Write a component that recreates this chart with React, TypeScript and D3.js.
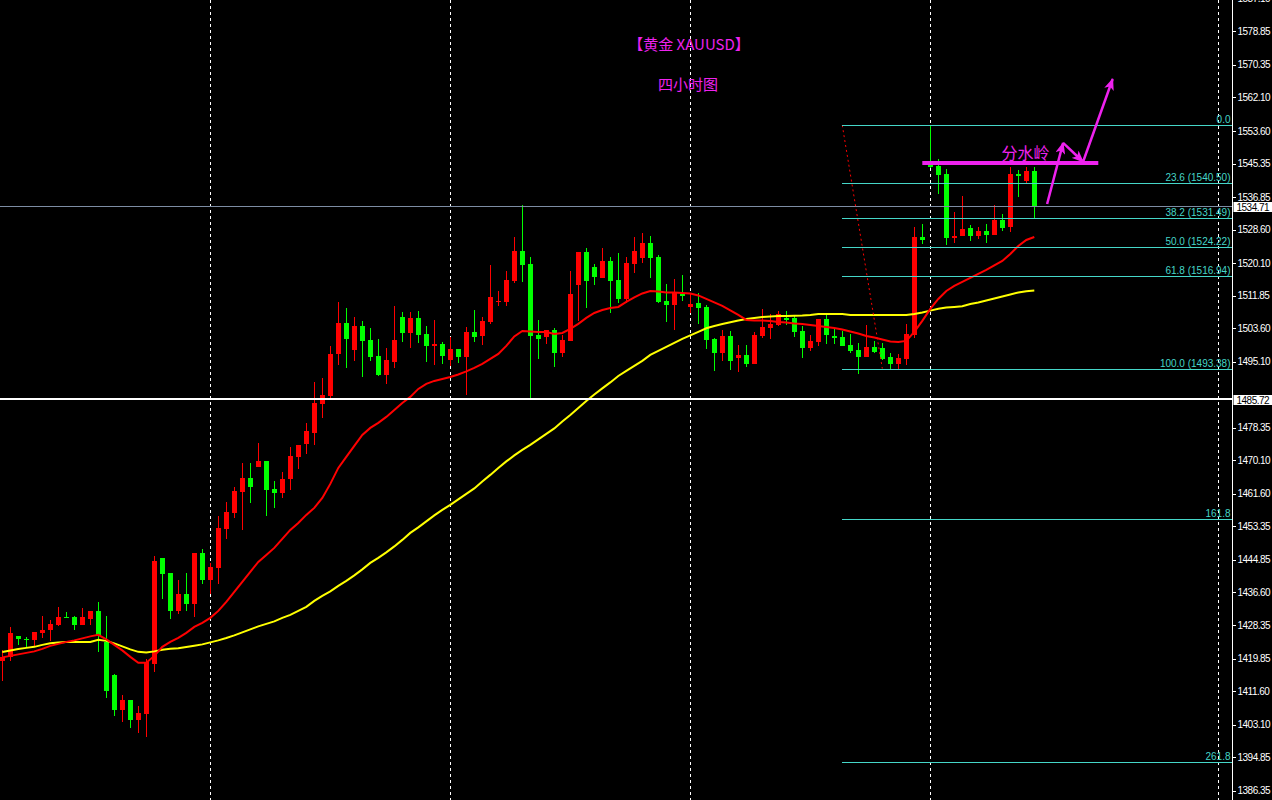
import React from 'react';
import * as d3 from 'd3';

const WIDTH = 1272;
const HEIGHT = 800;

const opens = [
  1419.3, 1420.3, 1425.6, 1424.9, 1424.6, 1426.3, 1427.0, 1428.4, 1430.4, 1430.4,
  1428.4, 1429.9, 1431.9, 1424.1, 1415.7, 1406.8, 1409.4, 1404.3, 1405.8, 1418.5,
  1445.4, 1441.6, 1431.9, 1436.2, 1433.8, 1446.6, 1439.8, 1442.8, 1452.7, 1456.8,
  1462.1, 1465.7, 1468.4, 1469.9, 1462.9, 1461.9, 1465.4, 1470.9, 1474.3, 1477.1,
  1484.4, 1486.4, 1497.1, 1504.9, 1498.1, 1504.2, 1500.6, 1496.6, 1491.8, 1495.1,
  1506.5, 1502.4, 1506.2, 1502.2, 1499.1, 1499.6, 1495.6, 1498.4, 1496.3, 1502.7,
  1501.6, 1505.2, 1510.5, 1510.3, 1515.6, 1523.2, 1519.9, 1501.9, 1501.4, 1503.2,
  1497.3, 1500.4, 1514.6, 1522.9, 1519.1, 1516.4, 1520.7, 1515.8, 1511.0, 1519.9,
  1521.4, 1525.2, 1521.7, 1510.5, 1509.5, 1512.3, 1509.0, 1510.0, 1509.0, 1500.9,
  1497.3, 1501.6, 1496.1, 1496.8, 1494.5, 1501.6, 1503.7, 1504.4, 1506.2, 1506.2,
  1502.9, 1498.6, 1500.1, 1505.9, 1501.6, 1501.4, 1499.4, 1498.1, 1496.3, 1498.8,
  1498.6, 1496.3, 1494.5, 1495.8, 1501.9, 1526.7, 1545.0, 1544.7, 1542.7, 1526.5,
  1527.0, 1529.0, 1527.0, 1528.3, 1527.3, 1531.1, 1529.3, 1542.7, 1540.9, 1543.5,
];

const highs = [
  1422.0, 1427.9, 1425.6, 1425.2, 1426.6, 1430.7, 1429.7, 1432.9, 1431.7, 1430.7,
  1432.7, 1431.9, 1434.2, 1430.7, 1416.0, 1410.6, 1409.4, 1407.9, 1419.8, 1445.9,
  1445.4, 1441.6, 1439.8, 1441.6, 1446.6, 1447.6, 1444.1, 1456.0, 1459.6, 1463.4,
  1469.4, 1469.4, 1474.5, 1469.9, 1464.9, 1467.2, 1473.5, 1474.0, 1479.6, 1490.0,
  1491.0, 1499.1, 1510.3, 1508.7, 1506.5, 1505.5, 1503.7, 1500.9, 1498.6, 1509.2,
  1507.7, 1507.7, 1508.0, 1504.2, 1505.7, 1500.1, 1501.4, 1498.4, 1503.9, 1508.2,
  1506.5, 1519.6, 1513.1, 1518.1, 1526.7, 1534.8, 1521.7, 1505.7, 1503.2, 1503.7,
  1501.9, 1518.1, 1522.9, 1523.9, 1519.9, 1523.9, 1521.7, 1522.7, 1521.7, 1526.7,
  1527.8, 1527.0, 1522.2, 1514.8, 1516.1, 1517.1, 1512.5, 1512.5, 1509.5, 1501.1,
  1503.2, 1502.9, 1499.4, 1499.4, 1502.7, 1508.5, 1507.2, 1508.0, 1508.0, 1506.7,
  1504.2, 1501.9, 1505.9, 1507.0, 1503.4, 1502.9, 1502.2, 1499.9, 1504.4, 1500.4,
  1499.9, 1497.3, 1497.1, 1504.7, 1529.3, 1530.0, 1555.1, 1546.5, 1544.0, 1533.1,
  1537.1, 1529.8, 1529.3, 1530.0, 1534.9, 1532.6, 1544.5, 1543.7, 1544.5, 1544.5,
];

const lows = [
  1414.2, 1419.3, 1423.4, 1422.6, 1423.1, 1425.1, 1424.3, 1428.1, 1430.2, 1427.1,
  1428.4, 1428.4, 1421.5, 1409.9, 1405.3, 1403.8, 1402.3, 1401.0, 1400.0, 1416.5,
  1435.0, 1429.9, 1431.2, 1431.8, 1430.5, 1438.8, 1436.2, 1438.8, 1450.2, 1455.5,
  1452.5, 1459.3, 1468.4, 1456.0, 1458.0, 1460.6, 1462.6, 1467.9, 1471.7, 1474.0,
  1480.9, 1485.9, 1494.3, 1493.5, 1495.3, 1491.3, 1495.3, 1491.5, 1489.5, 1493.5,
  1500.1, 1498.6, 1499.9, 1495.1, 1494.3, 1494.6, 1494.0, 1494.8, 1486.7, 1500.1,
  1499.4, 1504.7, 1509.3, 1509.3, 1515.1, 1515.3, 1485.9, 1495.8, 1499.6, 1493.8,
  1496.3, 1500.4, 1505.5, 1508.7, 1514.6, 1516.4, 1507.5, 1510.0, 1510.0, 1517.6,
  1520.2, 1516.4, 1510.0, 1505.2, 1503.2, 1510.5, 1507.5, 1504.7, 1498.3, 1492.8,
  1495.3, 1493.0, 1492.5, 1493.8, 1494.5, 1501.1, 1500.9, 1504.2, 1504.4, 1501.4,
  1496.1, 1497.8, 1499.1, 1499.6, 1499.6, 1499.1, 1497.3, 1492.0, 1496.3, 1497.3,
  1495.6, 1493.3, 1493.3, 1494.3, 1501.1, 1525.0, 1544.2, 1537.6, 1524.7, 1525.2,
  1527.0, 1525.7, 1526.2, 1525.2, 1527.3, 1528.3, 1528.0, 1536.9, 1540.4, 1531.6,
];

const closes = [
  1420.3, 1426.4, 1424.9, 1424.7, 1426.6, 1427.1, 1428.6, 1430.4, 1430.2, 1428.4,
  1430.4, 1431.9, 1425.8, 1411.6, 1406.8, 1409.4, 1404.3, 1406.1, 1419.0, 1444.6,
  1441.3, 1431.9, 1436.2, 1433.8, 1446.6, 1439.8, 1443.1, 1453.0, 1457.0, 1462.4,
  1465.7, 1463.4, 1469.9, 1462.7, 1461.9, 1465.4, 1471.2, 1474.0, 1477.6, 1484.7,
  1486.7, 1497.1, 1504.9, 1500.9, 1504.2, 1500.4, 1496.3, 1491.8, 1495.6, 1500.6,
  1502.4, 1506.2, 1501.9, 1499.1, 1499.6, 1496.6, 1498.4, 1496.3, 1502.7, 1501.4,
  1505.5, 1511.5, 1510.6, 1515.8, 1523.2, 1519.6, 1501.6, 1500.9, 1503.2, 1497.3,
  1500.6, 1512.3, 1522.9, 1515.6, 1516.6, 1520.7, 1515.6, 1511.0, 1520.2, 1523.2,
  1525.2, 1521.4, 1510.3, 1509.5, 1512.8, 1511.8, 1509.8, 1508.7, 1500.6, 1497.3,
  1501.6, 1495.3, 1496.8, 1494.5, 1501.9, 1503.9, 1504.7, 1507.2, 1505.7, 1502.7,
  1498.6, 1500.4, 1505.9, 1501.9, 1501.1, 1499.1, 1497.8, 1496.3, 1498.8, 1497.6,
  1495.8, 1494.5, 1496.1, 1502.2, 1526.7, 1526.0, 1544.5, 1542.5, 1526.5, 1527.0,
  1528.8, 1527.0, 1528.3, 1527.3, 1531.1, 1529.0, 1542.7, 1542.2, 1543.5, 1534.71,
];

// red moving average (fast)
const maFast = [
  1420.14, 1420.52, 1420.90, 1421.28, 1421.66, 1422.30, 1423.06, 1423.57, 1424.07, 1424.45,
  1424.96, 1425.47, 1425.85, 1424.71, 1423.31, 1421.92, 1420.27, 1418.75, 1418.75, 1420.52,
  1422.81, 1424.07, 1425.09, 1426.35, 1427.88, 1428.89, 1430.16, 1431.93, 1434.21, 1436.75,
  1439.28, 1441.82, 1444.35, 1446.13, 1447.90, 1450.18, 1452.46, 1454.24, 1456.27, 1458.04,
  1460.58, 1464.13, 1468.18, 1470.97, 1473.76, 1476.55, 1478.32, 1479.59, 1481.11, 1482.88,
  1484.66, 1486.18, 1488.21, 1489.48, 1490.24, 1490.74, 1491.25, 1491.88, 1492.64, 1493.53,
  1494.55, 1495.81, 1497.08, 1499.11, 1501.52, 1502.91, 1502.78, 1502.66, 1502.66, 1502.15,
  1502.40, 1503.42, 1504.69, 1506.21, 1507.47, 1508.23, 1508.74, 1509.00, 1510.26, 1511.40,
  1512.42, 1513.05, 1512.92, 1512.67, 1512.67, 1512.54, 1512.42, 1511.91, 1511.02, 1510.14,
  1509.25, 1508.11, 1506.97, 1505.70, 1505.57, 1505.57, 1505.45, 1505.19, 1505.07, 1504.81,
  1504.69, 1504.43, 1504.18, 1503.93, 1503.67, 1503.29, 1502.78, 1502.28, 1501.64, 1501.26,
  1500.76, 1500.25, 1500.12, 1500.38, 1502.66, 1505.45, 1508.49, 1511.02, 1513.05, 1514.32,
  1515.33, 1516.35, 1517.36, 1518.37, 1519.52, 1520.66, 1522.43, 1524.46, 1525.98, 1526.74,
];

// yellow moving average (slow)
const maSlow = [
  1421.49, 1421.89, 1422.25, 1422.55, 1422.81, 1423.31, 1423.74, 1423.92, 1424.07, 1424.07,
  1424.07, 1424.07, 1424.58, 1424.33, 1423.69, 1422.93, 1422.17, 1421.54, 1421.36, 1421.66,
  1422.10, 1422.30, 1422.43, 1422.75, 1423.11, 1423.44, 1423.95, 1424.45, 1425.04, 1425.72,
  1426.48, 1427.24, 1428.00, 1428.64, 1429.27, 1430.16, 1430.92, 1431.93, 1432.95, 1434.47,
  1435.73, 1436.87, 1438.27, 1439.54, 1440.93, 1442.45, 1444.10, 1445.37, 1446.76, 1448.28,
  1449.93, 1451.70, 1453.10, 1454.62, 1456.14, 1457.53, 1458.80, 1460.20, 1461.59, 1462.99,
  1464.76, 1466.41, 1468.18, 1469.83, 1471.35, 1472.74, 1474.01, 1475.41, 1476.80, 1478.20,
  1479.97, 1481.62, 1483.39, 1485.17, 1486.81, 1488.34, 1489.86, 1491.50, 1492.77, 1494.04,
  1495.31, 1496.83, 1497.84, 1498.86, 1499.87, 1500.88, 1501.77, 1502.66, 1503.60, 1504.18,
  1504.69, 1505.12, 1505.57, 1505.95, 1506.21, 1506.46, 1506.59, 1506.71, 1506.71, 1506.79,
  1506.84, 1506.97, 1507.22, 1507.22, 1507.22, 1507.22, 1506.97, 1506.97, 1506.97, 1506.97,
  1506.97, 1506.97, 1506.97, 1506.97, 1507.22, 1507.60, 1508.06, 1508.56, 1508.87, 1509.00,
  1509.17, 1509.76, 1510.14, 1510.64, 1511.15, 1511.66, 1512.16, 1512.67, 1513.00, 1513.18,
];

// tick labels (1486.85 is hidden behind the 1485.72 price box in the reference)
const priceTicks = [
  1587.10, 1578.85, 1570.35, 1562.10, 1553.60, 1545.35, 1536.85, 1528.60, 1520.10,
  1511.85, 1503.60, 1495.10, 1478.35, 1470.10, 1461.60, 1453.35, 1444.85,
  1436.60, 1428.35, 1419.85, 1411.60, 1403.10, 1394.85, 1386.35,
];

const gridIndices = [26, 56, 86, 116, 152];

const fibLevels = ['0.0', '23.6', '38.2', '50.0', '61.8', '100.0', '161.8', '261.8'];
const fibPrices = [1555.06, 1540.50, 1531.49, 1524.22, 1516.94, 1493.38, 1455.26, 1393.58];
const fibShowPrice = [false, true, true, true, true, true, false, false];
const fibStartIndex = 105;
const fibEndIndex = 110;

const currentPrice = 1534.71;
const markedPrice = 1485.72;

const watershed = { startIndex: 115, endIndex: 137, price: 1545.5, label: '分水岭', labelIndex: 127.9, labelPrice: 1546.5 };
const arrows = [
  { from: [130.6, 1535.1], to: [132.6, 1550.6] },
  { from: [132.6, 1550.6], to: [135.1, 1545.8] },
  { from: [135.1, 1545.8], to: [138.8, 1566.8] },
];

const titleLine1 = '【黄金 XAUUSD】';
const titleLine2 = '四小时图';

export default function App() {
  const n = opens.length;
  const axisX = 1232.5;
  const x = d3.scaleLinear().domain([0, n - 1]).range([2.3, 2.3 + 8 * (n - 1)]);
  const y = d3.scaleLinear().domain([1383.98, 1586.82]).range([HEIGHT, 0]);
  const idx = d3.range(n);

  const maLine = d3
    .line<number>()
    .x((_, i) => x(i))
    .y((d) => y(d));

  const magenta = '#ee22ee';
  const fibColor = '#45d6c8';
  const yr = (p: number) => Math.round(y(p)) + 0.5;

  return (
    <div style={{ width: WIDTH, height: HEIGHT, background: '#000' }}>
      <style>{`html,body{margin:0;padding:0;background:#000;}`}</style>
      <svg width={WIDTH} height={HEIGHT} style={{ display: 'block', background: '#000' }}>
        <defs>
          <marker id="ah" viewBox="0 0 12 10" refX="11" refY="5" markerWidth="12" markerHeight="10" markerUnits="userSpaceOnUse" orient="auto">
            <path d="M0,0 L12,5 L0,10 L3,5 Z" fill={magenta} />
          </marker>
        </defs>
        <rect x={0} y={0} width={WIDTH} height={HEIGHT} fill="#000" />

        {/* vertical dashed grid */}
        {gridIndices.map((g) => (
          <line
            key={'g' + g}
            x1={Math.round(x(g)) + 0.5}
            x2={Math.round(x(g)) + 0.5}
            y1={0}
            y2={HEIGHT}
            stroke="#ffffff"
            strokeWidth={1}
            strokeDasharray="3,3"
          />
        ))}

        {/* candles */}
        {idx.map((i) => {
          const up = closes[i] >= opens[i];
          const color = up ? '#ff0000' : '#00ff00';
          const cx = Math.round(x(i));
          const top = Math.round(y(Math.max(opens[i], closes[i])));
          const bot = Math.round(y(Math.min(opens[i], closes[i])));
          return (
            <g key={'c' + i} shapeRendering="crispEdges">
              <line x1={cx + 0.5} x2={cx + 0.5} y1={Math.round(y(highs[i]))} y2={Math.round(y(lows[i]))} stroke={color} strokeWidth={1} />
              <rect x={cx - 2} y={top} width={5} height={Math.max(1, bot - top)} fill={color} />
            </g>
          );
        })}

        {/* moving averages */}
        <path d={maLine(maSlow) || ''} fill="none" stroke="#ffff00" strokeWidth={2} />
        <path d={maLine(maFast) || ''} fill="none" stroke="#ff0000" strokeWidth={2} />

        {/* horizontal price lines */}
        <line x1={0} x2={axisX} y1={yr(currentPrice)} y2={yr(currentPrice)} stroke="#7d8ca3" strokeWidth={1} shapeRendering="crispEdges" />
        <line x1={0} x2={axisX} y1={Math.round(y(markedPrice))} y2={Math.round(y(markedPrice))} stroke="#ffffff" strokeWidth={2} shapeRendering="crispEdges" />

        {/* fibonacci */}
        <line
          x1={x(fibStartIndex)}
          y1={y(fibPrices[0])}
          x2={x(fibEndIndex)}
          y2={y(fibPrices[5])}
          stroke="#ff0000"
          strokeWidth={1}
          strokeDasharray="2,3"
        />
        {fibPrices.map((p, k) => (
          <g key={'f' + k}>
            <line x1={Math.round(x(fibStartIndex))} x2={axisX} y1={yr(p)} y2={yr(p)} stroke={fibColor} strokeWidth={1} shapeRendering="crispEdges" />
            <text
              x={axisX - 2}
              y={yr(p) - 3}
              textAnchor="end"
              fill={fibColor}
              fontSize={10}
              fontFamily="'Liberation Sans', Arial, sans-serif"
            >
              {fibShowPrice[k] ? `${fibLevels[k]} (${p.toFixed(2)})` : fibLevels[k]}
            </text>
          </g>
        ))}

        {/* watershed annotation */}
        <line
          x1={x(watershed.startIndex)}
          x2={x(watershed.endIndex)}
          y1={y(watershed.price)}
          y2={y(watershed.price)}
          stroke={magenta}
          strokeWidth={4}
        />
        <text
          x={x(watershed.labelIndex)}
          y={y(watershed.labelPrice)}
          textAnchor="middle"
          fill={magenta}
          fontSize={16}
          fontFamily="'Noto Sans CJK SC', sans-serif"
        >
          {watershed.label}
        </text>
        {arrows.map((a, k) => (
          <line
            key={'a' + k}
            x1={x(a.from[0])}
            y1={y(a.from[1])}
            x2={x(a.to[0])}
            y2={y(a.to[1])}
            stroke={magenta}
            strokeWidth={2.5}
            markerEnd="url(#ah)"
          />
        ))}

        {/* title */}
        <text x={689} y={50} textAnchor="middle" fill={magenta} fontSize={15} fontFamily="'Noto Sans CJK SC', sans-serif">
          {titleLine1}
        </text>
        <text x={688} y={90} textAnchor="middle" fill={magenta} fontSize={15} fontFamily="'Noto Sans CJK SC', sans-serif">
          {titleLine2}
        </text>

        {/* price axis */}
        <line x1={axisX} x2={axisX} y1={0} y2={HEIGHT} stroke="#ffffff" strokeWidth={1} />
        {priceTicks.map((t) => (
          <g key={'t' + t}>
            <line x1={axisX} x2={axisX + 3} y1={yr(t)} y2={yr(t)} stroke="#ffffff" strokeWidth={1} shapeRendering="crispEdges" />
            <text
              x={axisX + 5}
              y={y(t)}
              dy="0.35em"
              fill="#ffffff"
              fontSize={10}
              letterSpacing={-0.5}
              fontFamily="'Liberation Sans', Arial, sans-serif"
            >
              {t.toFixed(2)}
            </text>
          </g>
        ))}
        {[currentPrice, markedPrice].map((p) => (
          <g key={'p' + p}>
            <rect x={axisX + 1} y={Math.round(y(p)) - 4} width={WIDTH - axisX - 1} height={10} fill="#ffffff" />
            <text
              x={axisX + 4}
              y={Math.round(y(p)) + 1}
              dy="0.35em"
              fill="#000000"
              fontSize={10}
              letterSpacing={-0.5}
              fontFamily="'Liberation Sans', Arial, sans-serif"
            >
              {p.toFixed(2)}
            </text>
          </g>
        ))}
      </svg>
    </div>
  );
}
